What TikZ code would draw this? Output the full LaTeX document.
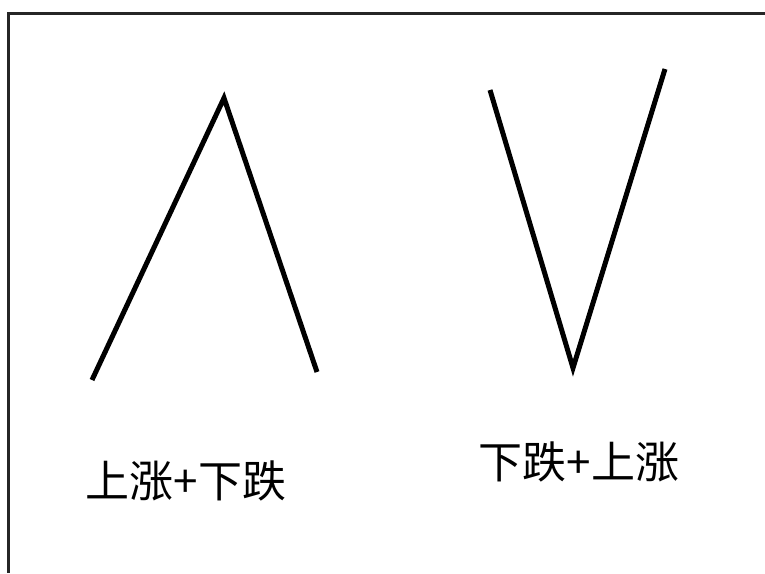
\documentclass[tikz,border=0pt]{standalone}
\usepackage{fontspec}
\newfontfamily\cjk{Noto Sans CJK SC}
\usepackage{tikz}
\usetikzlibrary{positioning}
\tikzset{
  frameline/.style={line width=3pt, draw=black!85},
  trend/.style={line width=5pt, draw=black, line cap=butt, line join=miter},
  lbl/.style={font=\cjk\fontsize{44}{46}\selectfont, inner sep=0pt, anchor=center},
}

\begin{document}
\begin{tikzpicture}[x=1pt, y=-1pt]
  \useasboundingbox (0,0) rectangle (765,573);
  \fill[white] (0,0) rectangle (765,573);

  % frame
  \coordinate (ftl) at (8.5,13);
  \coordinate (ftr) at (765,13);
  \coordinate (fbl) at (8.5,573);
  \draw[frameline] (ftr) -- (ftl) -- (fbl);

  % rise then fall
  \coordinate (a1) at (92,380);
  \coordinate (a2) at (224,98);
  \coordinate (a3) at (317,372);
  \draw[trend] (a1) -- (a2) -- (a3);

  % fall then rise
  \coordinate (v1) at (490,90);
  \coordinate (v2) at (573,368);
  \coordinate (v3) at (665,69);
  \draw[trend] (v1) -- (v2) -- (v3);

  \node[lbl] (up) at (186,481) {上涨+下跌};
  \node[lbl] (down) at (579,462) {下跌+上涨};
\end{tikzpicture}
\end{document}
